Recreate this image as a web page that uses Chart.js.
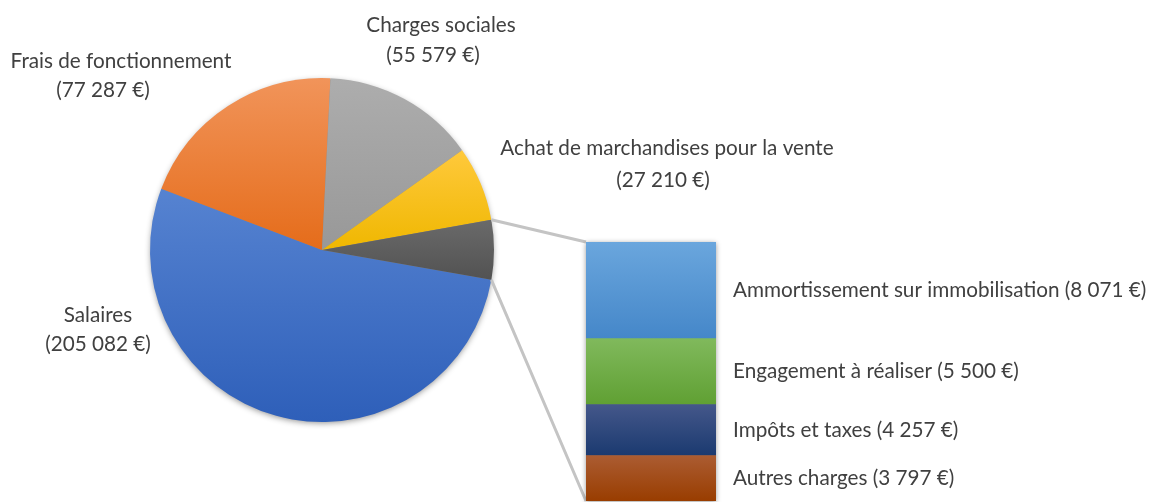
<!DOCTYPE html>
<html>
<head>
<meta charset="utf-8">
<script src="https://cdn.jsdelivr.net/npm/chart.js@4/dist/chart.umd.min.js"></script>
<style>
  html, body { margin: 0; padding: 0; background: #fff; }
  #wrap { position: relative; width: 1151px; height: 502px; overflow: hidden; }
  #wrap canvas { position: absolute; left: 0; top: 0; }
</style>
</head>
<body>
<div id="wrap">
  <canvas id="pieChart" width="1151" height="502"></canvas>
  <canvas id="barChart" width="1151" height="502"></canvas>
</div>
<script>
// ── Data ──────────────────────────────────────────────────────────────────────
var pieLabels = ['Salaires', 'Frais de fonctionnement', 'Charges sociales', 'Achat de marchandises pour la vente'];
var pieValues = [205082, 77287, 55579, 27210];

// detail of the "other" slice, bottom of the bar first
var barLabels = ['Autres charges', 'Impôts et taxes', 'Engagement à réaliser', 'Ammortissement sur immobilisation'];
var barValues = [3797, 4257, 5500, 8071];

var otherTotal = barValues.reduce(function(a, b) { return a + b; }, 0);

// ── Styles ────────────────────────────────────────────────────────────────────
var FONT = '20.7px Lato, Carlito, Calibri, sans-serif';
var TEXT = '#404040';

// [top, bottom] of each vertical gradient
var pieColors = [
  ['#5683d1', '#2e5fb9'],   // Salaires
  ['#f1945a', '#e56c1a'],   // Frais
  ['#adadad', '#989898'],   // Charges
  ['#ffc93c', '#efb700'],   // Achat
  ['#6a6a6a', '#525252']    // other
];
var barColors = [
  ['#ab5c32', '#993d00'],
  ['#44578a', '#1b3a70'],
  ['#80b95c', '#60a033'],
  ['#6aa6dd', '#4587c9']
];

// label lines relative to pie centre: [dx1, dy1, dx2, dy2]
var pieLabelPos = [
  [-224, 65, -224, 94],
  [-201, -189, -219, -160],
  [119, -225, 111, -195],
  [345, -102, 341, -70]
];

function euro(v) {
  return '(' + String(v).replace(/\B(?=(\d{3})+(?!\d))/g, ' ') + ' €)';
}

// ── Pie ───────────────────────────────────────────────────────────────────────
var ROTATION = 100;
var pieData = pieValues.concat([otherTotal]);
var pieTotal = pieData.reduce(function(a, b) { return a + b; }, 0);

function sliceGradient(c) {
  var chart = c.chart, area = chart.chartArea, i = c.dataIndex;
  if (!area) return pieColors[i][0];
  var cx = (area.left + area.right) / 2, cy = (area.top + area.bottom) / 2;
  var r = Math.min(area.width, area.height) / 2;
  var before = 0;
  for (var k = 0; k < i; k++) before += pieData[k];
  var a0 = (ROTATION - 90) * Math.PI / 180 + before / pieTotal * 2 * Math.PI;
  var a1 = a0 + pieData[i] / pieTotal * 2 * Math.PI;
  var minY = cy, maxY = cy;
  for (var s = 0; s <= 40; s++) {
    var y = cy + r * Math.sin(a0 + (a1 - a0) * s / 40);
    minY = Math.min(minY, y); maxY = Math.max(maxY, y);
  }
  var g = chart.ctx.createLinearGradient(0, minY, 0, maxY);
  g.addColorStop(0, pieColors[i][0]);
  g.addColorStop(1, pieColors[i][1]);
  return g;
}

var pieExtras = {
  id: 'pieExtras',
  beforeDatasetsDraw: function(chart) {
    var arc = chart.getDatasetMeta(0).data[0];
    var ctx = chart.ctx;
    ctx.save();
    ctx.shadowColor = 'rgba(0,0,0,0.45)';
    ctx.shadowBlur = 6;
    ctx.shadowOffsetY = 2;
    ctx.fillStyle = '#888';
    ctx.beginPath();
    ctx.arc(arc.x, arc.y, arc.outerRadius - 1, 0, Math.PI * 2);
    ctx.fill();
    ctx.restore();
  },
  afterDatasetsDraw: function(chart) {
    var arc = chart.getDatasetMeta(0).data[0];
    var ctx = chart.ctx;
    ctx.save();
    ctx.font = FONT;
    ctx.fillStyle = TEXT;
    ctx.textAlign = 'center';
    ctx.textBaseline = 'middle';
    pieLabels.forEach(function(name, i) {
      var p = pieLabelPos[i];
      ctx.fillText(name, arc.x + p[0], arc.y + p[1]);
      ctx.fillText(euro(pieValues[i]), arc.x + p[2], arc.y + p[3]);
    });
    ctx.restore();
  }
};

var pieChart = new Chart(document.getElementById('pieChart'), {
  type: 'pie',
  data: {
    labels: pieLabels.concat(['Autres']),
    datasets: [{ data: pieData, backgroundColor: sliceGradient, borderWidth: 0 }]
  },
  options: {
    responsive: false, animation: false, rotation: ROTATION,
    layout: { padding: { left: 150, right: 657, top: 78, bottom: 80 } },
    plugins: { legend: { display: false }, tooltip: { enabled: false } }
  },
  plugins: [pieExtras]
});

// ── Bar of pie ────────────────────────────────────────────────────────────────
function segGradient(c) {
  var chart = c.chart, i = c.datasetIndex;
  var y = chart.scales && chart.scales.y;
  if (!chart.chartArea || !y) return barColors[i][0];
  var below = 0;
  for (var k = 0; k < i; k++) below += barValues[k];
  var top = y.getPixelForValue(below + barValues[i]);
  var bottom = y.getPixelForValue(below);
  var g = chart.ctx.createLinearGradient(0, top, 0, bottom);
  g.addColorStop(0, barColors[i][0]);
  g.addColorStop(1, barColors[i][1]);
  return g;
}

var barExtras = {
  id: 'barExtras',
  beforeDatasetsDraw: function(chart) {
    var a = chart.chartArea, ctx = chart.ctx;
    var y = chart.scales.y;
    var arc = pieChart.getDatasetMeta(0).data[4];
    var topY = y.getPixelForValue(otherTotal), botY = y.getPixelForValue(0);
    // connector lines
    ctx.save();
    ctx.strokeStyle = '#c4c4c4';
    ctx.lineWidth = 3;
    ctx.beginPath();
    ctx.moveTo(arc.x + arc.outerRadius * Math.cos(arc.startAngle), arc.y + arc.outerRadius * Math.sin(arc.startAngle));
    ctx.lineTo(a.left, topY);
    ctx.moveTo(arc.x + arc.outerRadius * Math.cos(arc.endAngle), arc.y + arc.outerRadius * Math.sin(arc.endAngle));
    ctx.lineTo(a.left, botY);
    ctx.stroke();
    // shadow
    ctx.shadowColor = 'rgba(0,0,0,0.4)';
    ctx.shadowBlur = 5;
    ctx.shadowOffsetY = 1;
    ctx.fillStyle = '#888';
    ctx.fillRect(a.left, topY, a.right - a.left, botY - topY);
    ctx.restore();
  },
  afterDatasetsDraw: function(chart) {
    var ctx = chart.ctx;
    ctx.save();
    ctx.font = FONT;
    ctx.fillStyle = TEXT;
    ctx.textAlign = 'left';
    ctx.textBaseline = 'middle';
    barLabels.forEach(function(name, i) {
      var bar = chart.getDatasetMeta(i).data[0];
      var mid = (bar.y + bar.base) / 2;
      ctx.fillText(name + ' ' + euro(barValues[i]), bar.x + bar.width / 2 + 17, mid);
    });
    ctx.restore();
  }
};

var barChart = new Chart(document.getElementById('barChart'), {
  type: 'bar',
  data: {
    labels: ['Autres'],
    datasets: barLabels.map(function(name, i) {
      return { label: name, data: [barValues[i]], backgroundColor: segGradient, borderWidth: 0,
               barPercentage: 1, categoryPercentage: 1 };
    })
  },
  options: {
    responsive: false, animation: false,
    layout: { padding: { left: 586, right: 435, top: 242, bottom: 1 } },
    scales: {
      x: { stacked: true, display: false },
      y: { stacked: true, display: false, min: 0, max: otherTotal }
    },
    plugins: { legend: { display: false }, tooltip: { enabled: false } }
  },
  plugins: [barExtras]
});
</script>
</body>
</html>
